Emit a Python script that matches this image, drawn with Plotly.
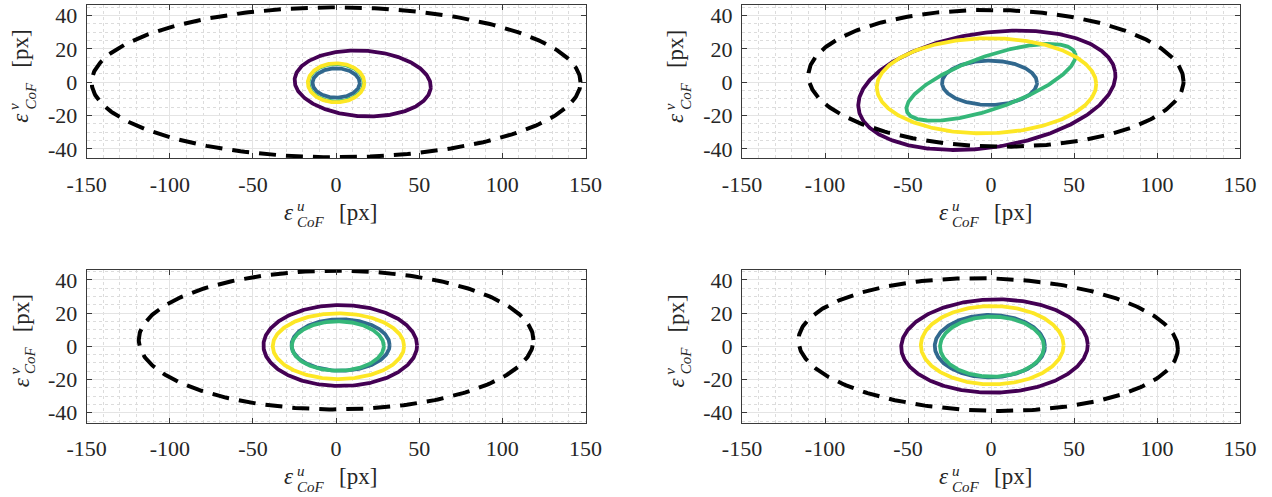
import numpy as np
import plotly.graph_objects as go

# ---------------- data ----------------
# ellipse order in every panel: purple, blue, green, yellow, dashed bound
series_colors = ["#440154", "#31688E", "#35B779", "#FDE725", "#000000"]

# top-left panel
tl_cu = [16.0, 0.0, 0.0, 0.0, 0.0]
tl_cv = [-0.7, -0.4, -0.3, -0.3, 0.0]
tl_a = [41.0, 14.2, 16.6, 17.0, 147.0]
tl_b = [19.7, 8.8, 11.3, 11.7, 45.0]
tl_ang = [-3.3, 0.0, 0.0, 0.0, 0.0]

# top-right panel
tr_cu = [-2.5, -0.9, 0.0, -2.7, 3.0]
tr_cv = [-4.8, -0.3, 0.0, -2.1, 2.4]
tr_a = [78.1, 28.6, 53.6, 66.1, 113.0]
tr_b = [34.4, 13.3, 15.9, 28.5, 41.0]
tr_ang = [8.2, 0.0, 19.0, 1.0, -1.0]

# bottom-left panel
bl_cu = [2.5, 2.7, 1.0, 1.4, 0.0]
bl_cv = [0.5, 0.8, 0.2, 0.1, 3.8]
bl_a = [46.2, 29.5, 27.7, 39.5, 118.7]
bl_b = [24.4, 15.5, 14.9, 19.8, 41.8]
bl_ang = [0.0, 0.0, 0.0, 0.0, 0.0]

# bottom-right panel
br_cu = [2.1, -0.7, 0.6, 0.75, -1.7]
br_cv = [0.2, 0.1, -0.2, 0.7, 1.1]
br_a = [56.2, 33.2, 31.3, 43.0, 114.3]
br_b = [28.1, 18.8, 18.1, 23.6, 39.9]
br_ang = [1.0, 0.0, 0.0, 0.0, -1.4]

x_tick_vals = [-150, -100, -50, 0, 50, 100, 150]
x_tick_text = ["-150", "-100", "-50", "0", "50", "100", "150"]
y_tick_vals = [-40, -20, 0, 20, 40]
y_tick_text = ["-40", "-20", "0", "20", "40"]
x_range = [-150, 150]
y_range_top_row = [-45.6, 46.2]
y_range_bottom_row = [-46.0, 46.0]

panels = [
    (tl_cu, tl_cv, tl_a, tl_b, tl_ang),
    (tr_cu, tr_cv, tr_a, tr_b, tr_ang),
    (bl_cu, bl_cv, bl_a, bl_b, bl_ang),
    (br_cu, br_cv, br_a, br_b, br_ang),
]

# ---------------- layout geometry (pixels) ----------------
W, H = 1272, 497
col_px = [(86.7, 585.5), (742.0, 1240.0)]
row_px = [(5.3, 158.3), (270.0, 422.7)]
row_ranges = [y_range_top_row, y_range_bottom_row]

FONT = "Liberation Serif"
TXT = "#262626"
t = np.linspace(0, 2 * np.pi, 361)

fig = go.Figure()

for p, (cu, cv, aa, bb, ang) in enumerate(panels):
    ax = "" if p == 0 else str(p + 1)
    for k in range(5):
        th = np.deg2rad(ang[k])
        ex = cu[k] + aa[k] * np.cos(t) * np.cos(th) - bb[k] * np.sin(t) * np.sin(th)
        ey = cv[k] + aa[k] * np.cos(t) * np.sin(th) + bb[k] * np.sin(t) * np.cos(th)
        if k == 4:
            line = dict(color=series_colors[k], width=4, dash="17px,10px")
        else:
            line = dict(color=series_colors[k], width=3.8)
        fig.add_trace(go.Scatter(x=ex, y=ey, mode="lines", line=line,
                                 xaxis="x" + ax, yaxis="y" + ax,
                                 hoverinfo="skip", showlegend=False, cliponaxis=True))

axis_common = dict(
    showline=True, linecolor="#3a3a3a", linewidth=1, mirror="ticks",
    ticks="inside", ticklen=5, tickcolor="#3a3a3a", tickwidth=1,
    showgrid=True, gridcolor="#e4e4e4", gridwidth=1,
    zeroline=False, automargin=False, ticklabeloverflow="allow",
    tickfont=dict(family=FONT, size=22, color=TXT),
)

layout = dict(width=W, height=H, margin=dict(l=0, r=0, t=0, b=0, autoexpand=False),
              paper_bgcolor="white", plot_bgcolor="white", showlegend=False)

annotations = []
for p in range(4):
    r, c = divmod(p, 2)
    ax = "" if p == 0 else str(p + 1)
    x0, x1 = col_px[c]
    y0, y1 = row_px[r]
    layout["xaxis" + ax] = dict(
        axis_common, domain=[x0 / W, x1 / W], range=x_range,
        anchor="y" + ax, tickvals=x_tick_vals, ticktext=x_tick_text,
        ticklabelstandoff=6,
        minor=dict(dtick=10, tick0=0, showgrid=True, gridcolor="#dcdcdc",
                   griddash="dot", gridwidth=1, ticks=""),
    )
    layout["yaxis" + ax] = dict(
        axis_common, domain=[1 - y1 / H, 1 - y0 / H], range=row_ranges[r],
        anchor="x" + ax, tickvals=y_tick_vals, ticktext=y_tick_text,
        ticklabelstandoff=4,
        minor=dict(dtick=5, tick0=0, showgrid=True, gridcolor="#dcdcdc",
                   griddash="dot", gridwidth=1, ticks=""),
    )

    xr, yr = "x" + ax + " domain", "y" + ax + " domain"

    # ---- x label: eps^u_CoF [px] ----
    base = 62.0           # baseline distance below the box
    cx = -54.0            # start of label relative to axis centre
    pieces = [
        ("<i>ε</i>", 23, 0, 0.0),
        ("<i>u</i>", 15, 13, -9.0),
        ("<i>CoF</i>", 15, 13, 7.0),
        ("[px]", 23, 55, 0.0),
    ]
    for txt, fs, dx, dy in pieces:
        centre_below = base + dy - 0.3375 * fs
        annotations.append(dict(
            text=txt, xref=xr, yref=yr, x=0.5, y=0, xanchor="left", yanchor="middle",
            xshift=cx + dx, yshift=-centre_below, showarrow=False,
            font=dict(family=FONT, size=fs, color=TXT)))

    # ---- y label (rotated, reads bottom to top): eps^v_CoF [px] ----
    base_y = 58.0         # baseline distance left of the box
    cy = -43.0            # start of label relative to axis centre (along text)
    pieces_y = [
        ("<i>ε</i>", 23, 0, 0.0),
        ("<i>v</i>", 15, 13, -9.0),
        ("<i>CoF</i>", 15, 13, 7.0),
        ("[px]", 23, 55, 0.0),
    ]
    for txt, fs, dx, dy in pieces_y:
        centre_left = base_y - dy + 0.3375 * fs
        annotations.append(dict(
            text=txt, xref=xr, yref=yr, x=0, y=0.5, xanchor="center", yanchor="bottom",
            textangle=-90, xshift=-centre_left, yshift=cy + dx, showarrow=False,
            font=dict(family=FONT, size=fs, color=TXT)))

layout["annotations"] = annotations
fig.update_layout(**layout)
# the page body carries a default 8 px margin; remove it so the figure sits at the window origin
fig.write_html("out.html", config={"displayModeBar": False},
               post_script="document.body.style.margin='0';")
